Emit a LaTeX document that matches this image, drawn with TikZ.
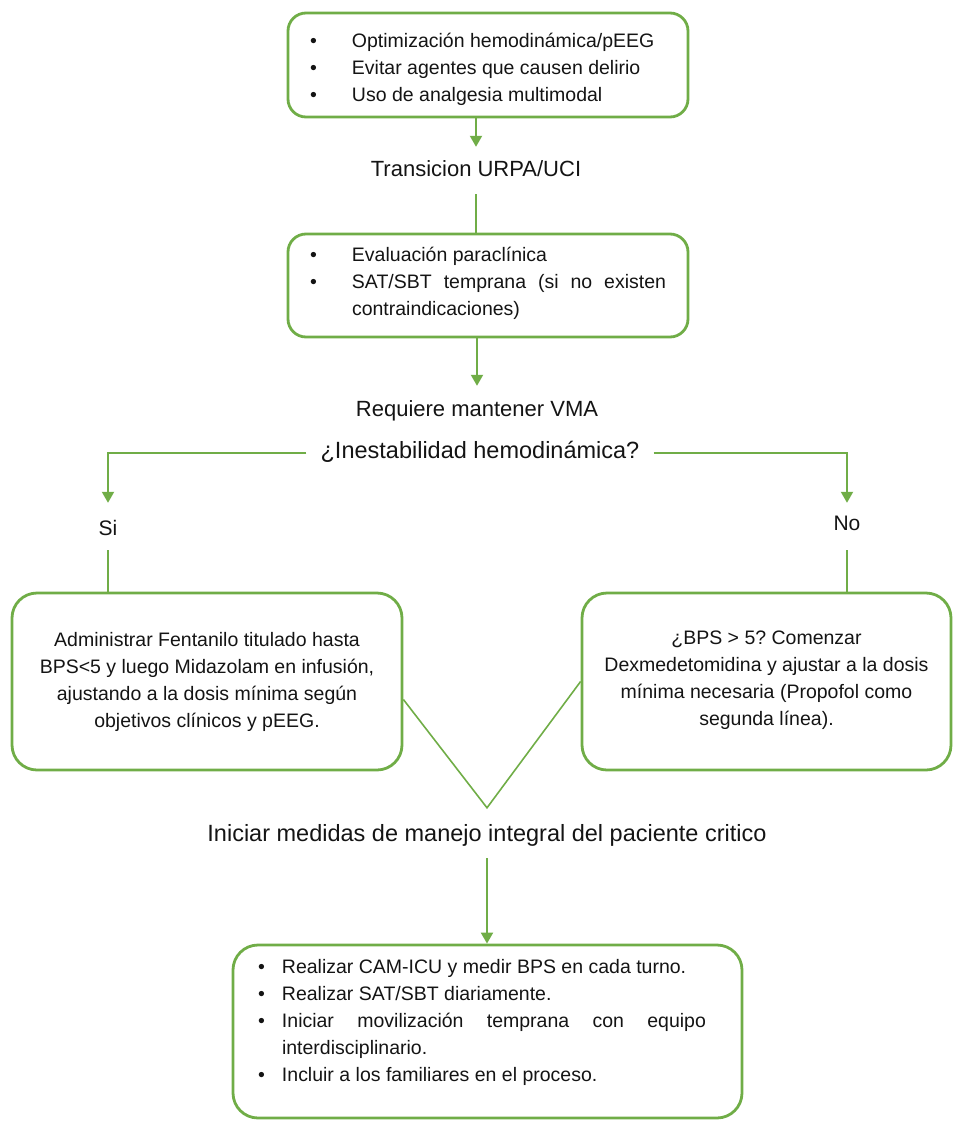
\documentclass[tikz,border=0pt]{standalone}
\usepackage{fontspec}
\setmainfont{Liberation Sans}
\usetikzlibrary{arrows.meta,calc}
\definecolor{gr}{RGB}{112,173,71}
\definecolor{tx}{RGB}{20,20,20}
\newcommand{\bitem}[2]{\par\noindent\hangindent=#1\hangafter=1\makebox[#1][l]{\textbullet}#2\par}
\begin{document}
\hyphenpenalty=10000
\exhyphenpenalty=10000
\tolerance=9999
\emergencystretch=20pt
\frenchspacing
\begin{tikzpicture}[x=1pt,y=-1pt,
  box/.style={draw=gr, line width=2.8pt, rounded corners=18pt, text=tx,
    inner xsep=22pt, inner ysep=0pt, align=justify,
    font=\fontsize{19.5}{27}\selectfont},
  sbox/.style={draw=gr, line width=2.8pt, rounded corners=25pt, text=tx,
    inner sep=0pt, align=center, minimum height=177pt,
    font=\fontsize{19.5}{27}\selectfont},
  conn/.style={draw=gr, line width=2pt},
  arr/.style={conn, -{Triangle[length=11pt,width=12pt]}},
  vline/.style={draw=gr, line width=1.6pt},
  lbl/.style={text=tx, inner xsep=0pt, text height=16pt, text depth=5pt, anchor=base}
]
\useasboundingbox (0,0) rectangle (954,1125);

% boxes
\node[box, minimum width=400pt, minimum height=104pt, text width=356pt] (b1) at (488,65)
  {\bitem{42pt}{Optimización hemodinámica/pEEG}\bitem{42pt}{Evitar agentes que causen delirio}\bitem{42pt}{Uso de analgesia multimodal\rule[-8pt]{0pt}{1pt}}};

\node[box, minimum width=400pt, minimum height=103pt, text width=356pt] (b2) at (488,285.5)
  {\bitem{42pt}{Evaluación paraclínica}\bitem{42pt}{SAT/SBT temprana (si no existen contraindicaciones)\rule[-21pt]{0pt}{1pt}}};

\node[box, rounded corners=25pt, inner xsep=25pt, minimum width=509pt, minimum height=173pt, text width=459pt] (bb) at (487.5,1031.5)
  {\rightskip=11pt\bitem{24pt}{Realizar CAM-ICU y medir BPS en cada turno.}\bitem{24pt}{Realizar SAT/SBT diariamente.}\bitem{24pt}{Iniciar movilización temprana con equipo interdisciplinario.}\bitem{24pt}{Incluir a los familiares en el proceso.\rule[-36pt]{0pt}{1pt}}};

\node[sbox, minimum width=390pt] (lb) at (207,681.5)
  {Administrar Fentanilo titulado hasta\\BPS<5 y luego Midazolam en infusión,\\ajustando a la dosis mínima según\\objetivos clínicos y pEEG.};

\node[sbox, minimum width=369pt] (rb) at (766.5,681.5)
  {¿BPS > 5? Comenzar\\Dexmedetomidina y ajustar a la dosis\\mínima necesaria (Propofol como\\segunda línea).\rule[-6pt]{0pt}{1pt}};

% labels
\node[lbl, font=\fontsize{22}{26}\selectfont, inner ysep=13pt] (t1) at (476,176) {Transicion URPA/UCI};
\node[lbl, font=\fontsize{22}{26}\selectfont, inner ysep=14pt] (t2) at (477,416) {Requiere mantener VMA};
\node[lbl, font=\fontsize{23.5}{28}\selectfont, text height=17pt, text depth=6pt, inner xsep=14pt, inner ysep=0pt] (dec) at (480,458) {¿Inestabilidad hemodinámica?};
\node[lbl, font=\fontsize{21}{25}\selectfont, text height=30pt, text depth=13pt, inner ysep=2pt] (si) at (108,535) {Si};
\node[lbl, font=\fontsize{21}{25}\selectfont, text height=25pt, text depth=18pt, inner ysep=2pt] (no) at (847,530) {No};
\node[lbl, font=\fontsize{23.5}{28}\selectfont, text height=17pt, text depth=1pt, inner ysep=16pt] (ini) at (487,841) {Iniciar medidas de manejo integral del paciente critico};

% connectors
\draw[arr] (t1.north |- b1.south) -- (t1.north);
\draw[conn] (t1.south) -- (t1.south |- b2.north);
\draw[arr] (t2.north |- b2.south) -- (t2.north);
\draw[arr] (dec.west) -| (si.north);
\draw[arr] (dec.east) -| (no.north);
\draw[conn] (si.south) -- (si.south |- lb.north);
\draw[conn] (no.south) -- (no.south |- rb.north);
\draw[vline] ([yshift=-18pt]lb.east) -- (ini.north) -- (rb.west);
\draw[arr] (ini.south) -- (ini.south |- bb.north);
\end{tikzpicture}
\end{document}
